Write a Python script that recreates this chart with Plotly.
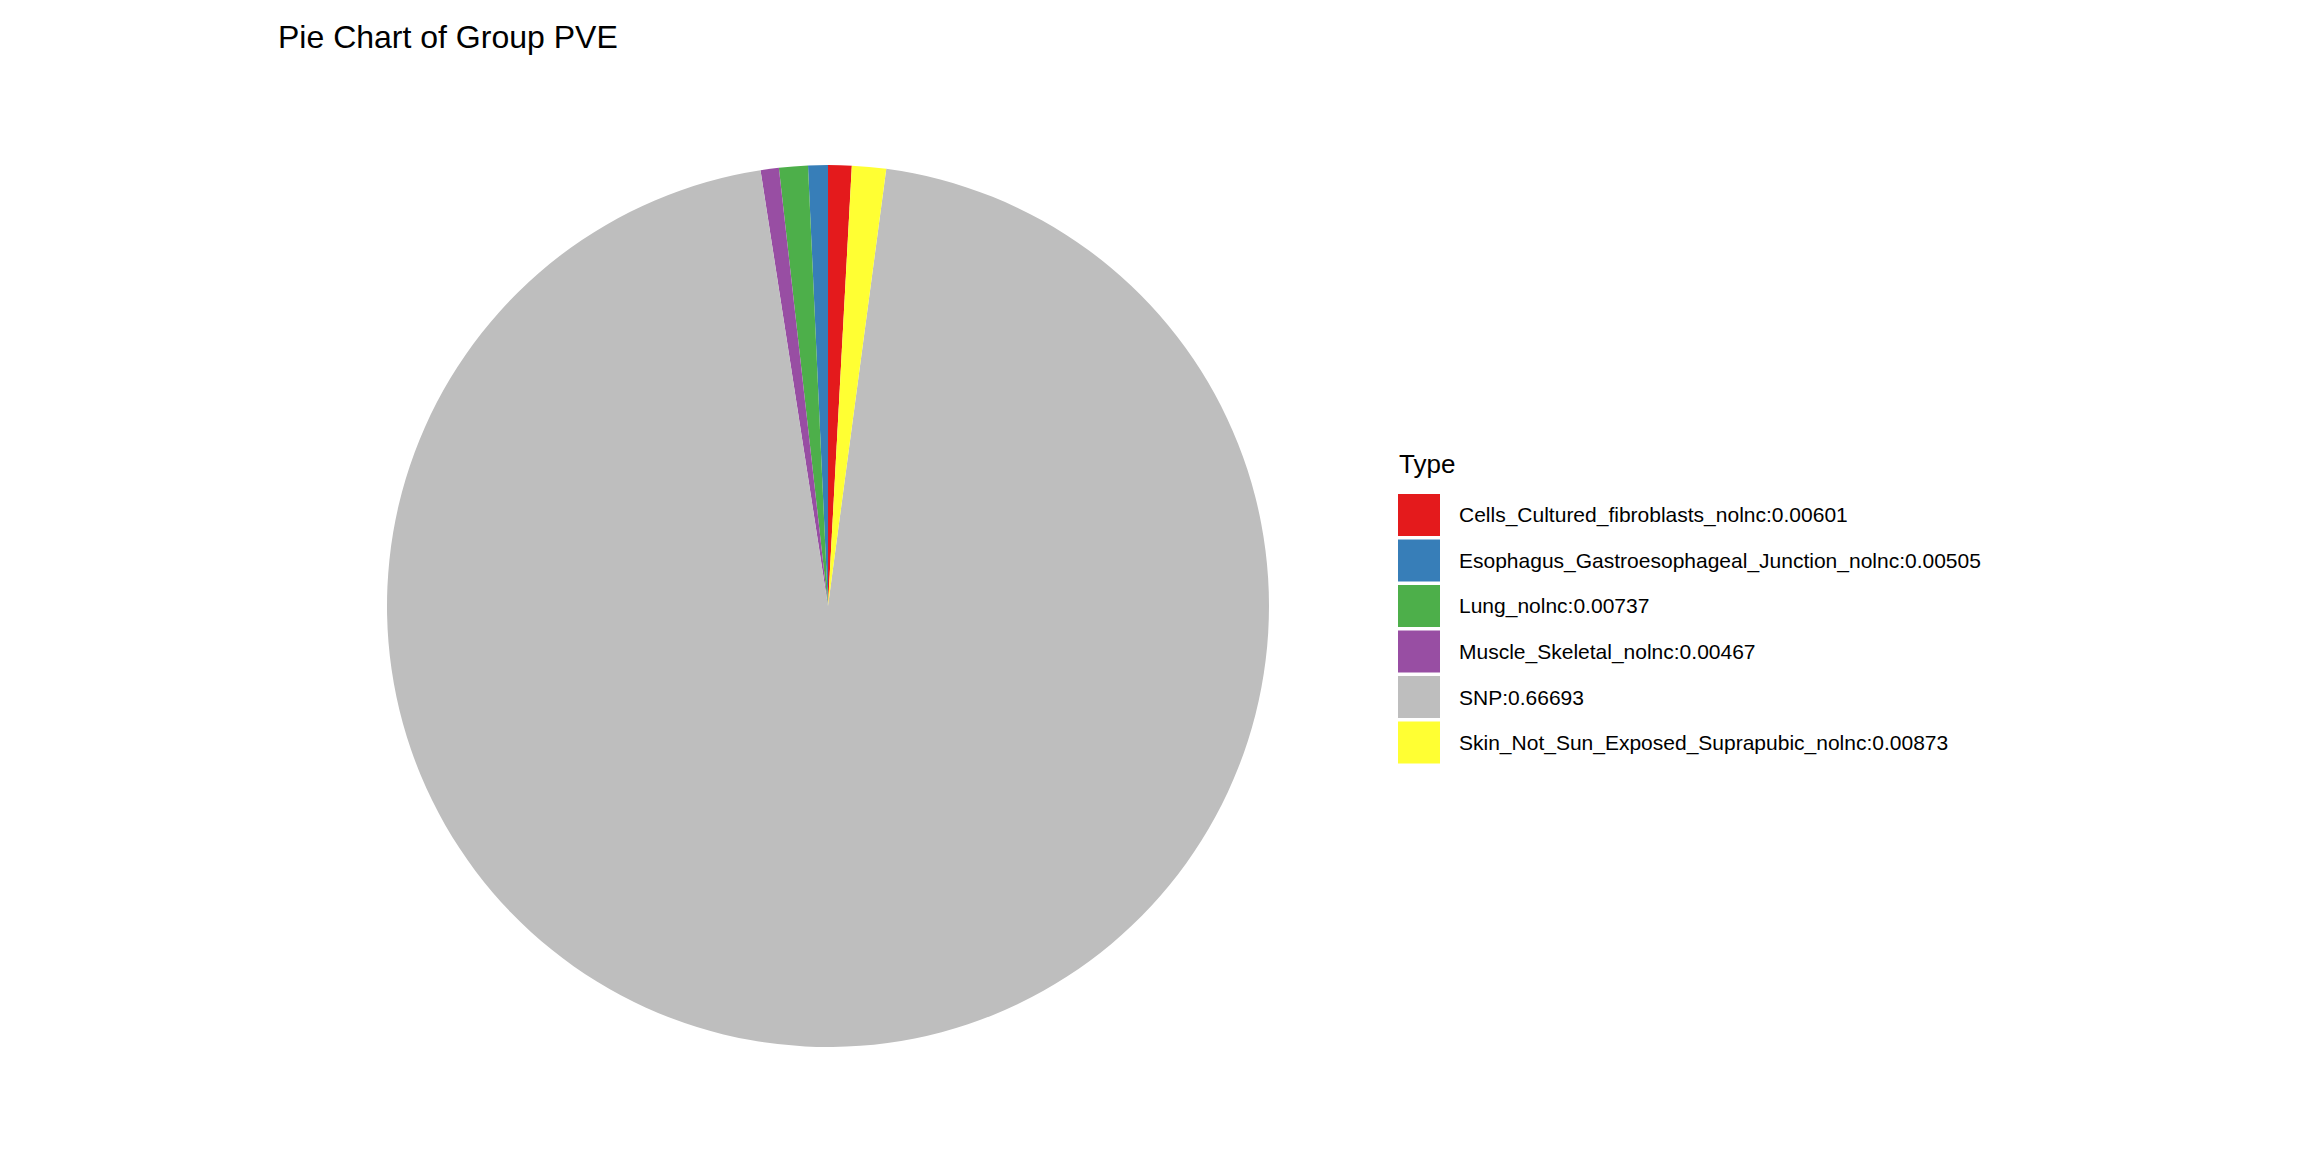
import plotly.graph_objects as go

types = ["Cells_Cultured_fibroblasts_nolnc", "Esophagus_Gastroesophageal_Junction_nolnc",
         "Lung_nolnc", "Muscle_Skeletal_nolnc", "SNP", "Skin_Not_Sun_Exposed_Suprapubic_nolnc"]
pve = [0.00601, 0.00505, 0.00737, 0.00467, 0.66693, 0.00873]
colors = ["#E41A1C", "#377EB8", "#4DAF4A", "#984EA3", "#BEBEBE", "#FFFF33"]
labels = [f"{t}:{v}" for t, v in zip(types, pve)]

W, H = 2304, 1152
fig = go.Figure(go.Pie(labels=labels, values=pve, marker=dict(colors=colors, line=dict(width=0)),
                       sort=False, direction="counterclockwise", rotation=0,
                       textinfo="none", hoverinfo="label+value",
                       domain=dict(x=[379/W, 1261/W], y=[1-1039/H, 1-157/H])))

shapes, annots = [], []
annots.append(dict(x=1389/W, y=1-456/H, xref="paper", yref="paper", text="Type", showarrow=False,
                   xanchor="left", yanchor="middle", font=dict(size=26, color="black")))
for i, (lab, c) in enumerate(zip(labels, colors)):
    y0 = 486 + i*45.5
    shapes.append(dict(type="rect", xref="paper", yref="paper", x0=1390/W, x1=1432/W,
                       y0=1-(y0+42)/H, y1=1-y0/H, fillcolor=c, line=dict(width=0)))
    annots.append(dict(x=1449/W, y=1-(y0+21)/H, xref="paper", yref="paper", text=lab, showarrow=False,
                       xanchor="left", yanchor="middle", font=dict(size=21, color="black")))

fig.update_layout(width=W, height=H, margin=dict(l=0, r=0, t=0, b=0), showlegend=False,
                  paper_bgcolor="white", plot_bgcolor="white",
                  font=dict(family="Liberation Sans, Arial, sans-serif"),
                  title=dict(text="Pie Chart of Group PVE", x=270/W, xanchor="left", y=1-29/H, yanchor="middle",
                             font=dict(size=32, color="black")),
                  shapes=shapes, annotations=annots)
fig.write_html("out.html")
